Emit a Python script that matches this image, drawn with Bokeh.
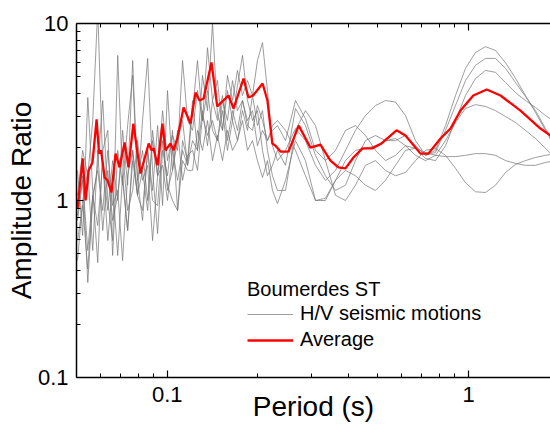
from bokeh.plotting import figure
from bokeh.models import Range1d, LogAxis, FixedTicker, CustomJSTickFormatter, Legend, LegendItem
from bokeh.embed import file_html
from bokeh.resources import INLINE

# Shared period grid (s) for the individual H/V curves
gray_period = [0.0504, 0.0524, 0.0545, 0.0566, 0.0588, 0.0611, 0.0635, 0.0659, 0.0685, 0.0711,
               0.0739, 0.0768, 0.0797, 0.0828, 0.0861, 0.0894, 0.0929, 0.0965, 0.1002, 0.1041,
               0.1082, 0.1124, 0.1168, 0.1213, 0.1260, 0.1309, 0.1360, 0.1413, 0.1468, 0.1525,
               0.1584, 0.1646, 0.1710, 0.1777, 0.1846, 0.1918, 0.1992, 0.2070, 0.2150, 0.2234,
               0.2321,
               0.2468, 0.2663, 0.2874, 0.3103, 0.3349, 0.3615, 0.3902, 0.4211, 0.4546, 0.4907,
               0.5297, 0.5717, 0.6171, 0.6661, 0.7190, 0.7761, 0.8377, 0.9042, 0.9759, 1.053,
               1.137, 1.227, 1.325, 1.430, 1.543, 1.666, 1.798, 1.941]

hv1 = [1.07, 1.92, 1.38, 2.83, 12.0, 1.58, 0.88, 1.68, 1.0, 2.49,
       1.22, 6.18, 1.30, 1.92, 1.0, 2.18, 1.38, 3.22, 1.68, 2.33,
       1.92, 6.18, 2.83, 2.49, 4.18, 2.83, 7.3, 3.67, 4.76, 2.49,
       5.09, 3.67, 5.43, 3.92, 4.76, 3.92, 6.18, 7.8, 4.18, 2.04,
       1.68,
       1.92, 2.55, 2.18, 1.58, 1.30, 1.48, 1.92, 2.49, 3.02, 3.44,
       3.67, 3.6, 3.02, 2.18, 1.80, 1.92, 2.65, 3.92, 5.58, 6.85,
       7.4, 7.04, 6.0, 4.9, 3.92, 3.14, 2.49, 1.97]

hv2 = [0.823, 1.38, 0.344, 1.0, 1.58, 3.67, 1.0, 0.594, 6.6, 1.30,
       0.677, 1.92, 1.07, 2.83, 6.35, 1.48, 0.65, 1.92, 1.38, 2.49,
       0.878, 2.18, 1.68, 3.67, 1.92, 5.09, 3.22, 10.1, 3.02, 2.49,
       4.18, 2.83, 4.47, 6.6, 3.67, 2.83, 3.22, 1.92, 1.38, 1.58,
       1.92,
       1.58, 3.31, 2.65, 1.80, 1.38, 1.14, 1.22, 1.68, 2.18, 2.33,
       2.18, 2.18, 2.33, 2.04, 1.80, 1.87, 2.49, 3.44, 4.76, 5.8,
       6.35, 6.35, 5.58, 4.64, 3.87, 3.22, 2.55, 2.04]

hv3 = [1.48, 0.634, 3.82, 1.14, 0.446, 1.92, 2.49, 0.489, 1.92, 1.22,
       2.65, 5.09, 1.30, 0.771, 1.92, 1.14, 2.65, 0.937, 4.18, 1.48,
       2.18, 2.83, 1.58, 3.22, 6.18, 2.83, 4.18, 2.49, 2.18, 3.67,
       2.83, 4.76, 3.22, 3.67, 2.65, 2.49, 3.44, 2.83, 2.18, 2.49,
       2.65,
       2.18, 3.67, 2.9, 1.92, 1.68, 1.92, 2.49, 2.65, 2.33, 1.92,
       1.68, 1.80, 2.04, 1.97, 1.73, 1.68, 2.04, 2.83, 3.92, 4.88,
       5.43, 5.3, 4.64, 4.07, 3.67, 3.35, 3.02, 2.76]

hv4 = [0.594, 0.937, 0.41, 1.07, 0.722, 1.68, 0.594, 1.22, 0.489, 1.38,
       0.677, 1.68, 1.07, 0.878, 1.92, 1.0, 0.937, 2.18, 1.22, 1.0,
       0.878, 1.68, 1.48, 1.48, 2.49, 1.92, 2.83, 1.68, 2.33, 1.68,
       2.49, 1.92, 2.18, 2.83, 1.92, 2.18, 1.68, 1.35, 1.68, 1.14,
       0.96,
       1.30, 2.18, 1.68, 1.0, 1.0, 1.30, 1.68, 1.92, 1.97, 2.04,
       2.18, 2.24, 2.04, 1.80, 1.68, 1.80, 2.18, 2.76, 3.31, 3.48,
       3.4, 3.22, 2.98, 2.76, 2.49, 2.24, 1.97, 1.73]

hv5 = [0.771, 1.30, 0.522, 1.07, 1.48, 0.878, 1.92, 0.937, 1.14, 0.458,
       1.38, 1.92, 1.07, 1.48, 0.878, 2.49, 1.38, 1.58, 1.0, 1.92,
       1.30, 1.92, 1.58, 2.18, 1.92, 3.22, 2.04, 3.67, 2.83, 3.92,
       2.18, 3.22, 2.49, 3.67, 2.83, 3.22, 2.04, 2.49, 2.18, 2.65,
       2.83,
       2.49, 1.92, 1.38, 1.0, 1.03, 1.30, 1.48, 1.38, 1.22, 1.14,
       1.30, 1.58, 1.92, 1.97, 1.87, 1.80, 1.77, 1.77, 1.80, 1.84,
       1.84, 1.80, 1.68, 1.62, 1.58, 1.58, 1.64, 1.68]

hv6 = [0.458, 1.0, 1.48, 0.522, 1.92, 0.677, 1.48, 0.771, 1.07, 1.92,
       0.878, 1.14, 2.18, 1.30, 1.58, 0.594, 1.38, 2.49, 1.14, 1.48,
       2.49, 1.30, 1.80, 1.92, 1.48, 3.02, 2.33, 2.83, 2.18, 3.22,
       1.92, 2.83, 2.18, 3.22, 2.49, 3.92, 2.65, 3.22, 1.92, 1.38,
       1.14,
       1.14, 2.49, 3.22, 2.65, 1.68, 1.07, 1.0, 1.22, 1.58, 1.68,
       1.48, 1.38, 1.44, 1.68, 1.92, 1.97, 1.80, 1.52, 1.26, 1.12,
       1.11, 1.22, 1.44, 1.6, 1.68, 1.75, 1.80, 1.84]

hv_series = [hv1, hv2, hv3, hv4, hv5, hv6]

avg_period = [0.0504, 0.0524, 0.0536, 0.0549, 0.0565, 0.0583, 0.0594, 0.0603, 0.0620, 0.0634,
              0.0653, 0.0674, 0.0695, 0.0722, 0.0744, 0.0772, 0.0815, 0.0868, 0.0887, 0.0901,
              0.0928, 0.0964, 0.0987, 0.1025, 0.1049, 0.1082, 0.1133, 0.1195, 0.1241, 0.1280,
              0.1320, 0.1402, 0.1465, 0.1597, 0.1660, 0.1791, 0.1859, 0.1926, 0.2071, 0.2150,
              0.2231, 0.2286, 0.2375, 0.2525, 0.2730, 0.2986, 0.3223, 0.3479, 0.3697, 0.3902,
              0.4147, 0.4441, 0.4780, 0.5140, 0.5761, 0.6171, 0.6920, 0.7346, 0.8063, 0.8703,
              0.9393, 1.036, 1.148, 1.275, 1.485, 1.730, 1.868, 1.94]
avg_amp = [0.90, 1.73, 1.0, 1.48, 1.64, 2.87, 1.84, 1.92, 1.35, 1.30,
           1.11, 1.84, 1.54, 2.13, 1.54, 2.72, 1.42, 2.10, 1.92, 1.97,
           1.58, 2.72, 1.92, 2.10, 1.92, 2.27, 3.35, 2.72, 4.07, 3.67,
           3.77, 6.02, 3.40, 3.92, 3.31, 4.89, 3.82, 3.92, 4.58, 3.67,
           2.10, 2.04, 1.89, 1.89, 2.65, 1.99, 2.07, 1.68, 1.54, 1.52,
           1.75, 1.97, 1.97, 2.10, 2.49, 2.33, 1.84, 1.84, 2.24, 2.55,
           3.22, 3.92, 4.24, 3.92, 3.22, 2.55, 2.33, 2.2]

x_major_ticks = [0.1, 1]
x_minor_ticks = [0.06, 0.07, 0.08, 0.09, 0.2, 0.3, 0.4, 0.5, 0.6, 0.7, 0.8, 0.9, 2]
y_major_ticks = [0.1, 1, 10]
y_minor_ticks = [0.2, 0.3, 0.4, 0.5, 0.6, 0.7, 0.8, 0.9, 2, 3, 4, 5, 6, 7, 8, 9]
x_title = "Period (s)"
y_title = "Amplitude Ratio"
legend_title = "Boumerdes ST"
legend_labels = ["H/V seismic motions", "Average"]

FONT = "Liberation Sans"

p = figure(width=550, height=428, x_axis_type="log", y_axis_type="log",
           x_range=Range1d(0.05, 1.868), y_range=Range1d(0.1, 10),
           output_backend="svg", toolbar_location=None,
           min_border_left=76, min_border_right=0, min_border_top=23, min_border_bottom=51)
p.outline_line_color = None
p.grid.visible = False
p.background_fill_color = "white"

gray_renderers = []
for s in hv_series:
    r = p.line(gray_period, s, line_color="#777777", line_alpha=0.72, line_width=1)
    gray_renderers.append(r)
r_avg = p.line(avg_period, avg_amp, line_color="#ff0000", line_width=2.3)

fmt = CustomJSTickFormatter(code="return String(Number(tick.toPrecision(6)));")
blank_fmt = CustomJSTickFormatter(code="return '';")

def style_axis(ax, major, minor):
    ax.ticker = FixedTicker(ticks=major, minor_ticks=minor)
    ax.axis_line_color = "black"
    ax.axis_line_width = 1.5
    ax.major_tick_in = 7
    ax.major_tick_out = 0
    ax.minor_tick_in = 4
    ax.minor_tick_out = 0
    ax.major_tick_line_color = "black"
    ax.minor_tick_line_color = "black"
    ax.major_tick_line_width = 1.2
    ax.minor_tick_line_width = 1
    ax.major_label_text_font = FONT
    ax.major_label_text_font_size = "22px"
    ax.major_label_text_color = "black"
    ax.axis_label_text_font = FONT
    ax.axis_label_text_font_size = "28px"
    ax.axis_label_text_font_style = "normal"
    ax.axis_label_text_color = "black"
    ax.formatter = fmt

xa = p.xaxis[0]
ya = p.yaxis[0]
style_axis(xa, x_major_ticks, x_minor_ticks)
style_axis(ya, y_major_ticks, y_minor_ticks)
xa.axis_label = x_title
ya.axis_label = y_title
xa.major_label_standoff = 9
xa.axis_label_standoff = -14
ya.major_label_standoff = 8
ya.axis_label_standoff = -2

top = LogAxis()
style_axis(top, x_major_ticks, x_minor_ticks)
top.formatter = blank_fmt
top.major_label_standoff = 0
p.add_layout(top, "above")

legend = Legend(items=[LegendItem(label=legend_labels[0], renderers=[gray_renderers[0]]),
                       LegendItem(label=legend_labels[1], renderers=[r_avg])],
                title=legend_title, location=(171, 26))
legend.title_text_font = FONT
legend.title_text_font_size = "20px"
legend.title_text_font_style = "normal"
legend.title_text_color = "black"
legend.title_standoff = 1
legend.label_text_font = FONT
legend.label_text_font_size = "20px"
legend.label_text_color = "black"
legend.glyph_width = 46
legend.glyph_height = 20
legend.label_height = 20
legend.label_standoff = 7
legend.spacing = 3
legend.padding = 0
legend.margin = 0
legend.border_line_color = None
legend.background_fill_alpha = 0
p.add_layout(legend)

open("out.html", "w").write(file_html(p, INLINE))
